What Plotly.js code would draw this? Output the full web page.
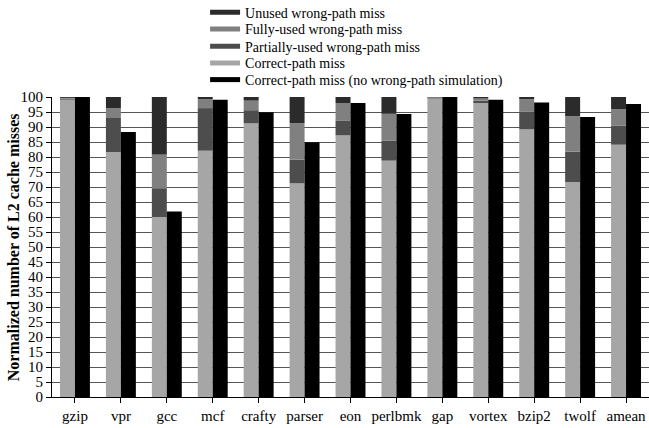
<!DOCTYPE html>
<html>
<head>
<meta charset="utf-8">
<script src="https://cdn.plot.ly/plotly-3.0.1.min.js"></script>
<style>html,body{margin:0;padding:0;background:#fff;}#chart{width:649px;height:428px;}</style>
</head>
<body>
<div id="chart"></div>
<script>
const categories = ["gzip","vpr","gcc","mcf","crafty","parser","eon","perlbmk","gap","vortex","bzip2","twolf","amean"];
const correctPath   = [99.1, 81.6, 60.0, 82.1, 91.3, 71.3, 87.3, 78.8, 99.5, 98.0, 89.3, 71.6, 84.1];
const partiallyUsed = [0.3, 11.4, 9.6, 14.2, 4.3, 7.8, 4.9, 6.6, 0.2, 0.8, 5.9, 10.2, 6.3];
const fullyUsed     = [0.3, 3.3, 11.2, 3.0, 3.2, 12.2, 5.8, 9.0, 0.15, 0.7, 4.1, 11.8, 5.6];
const unusedWP      = [0.3, 3.7, 19.2, 0.7, 1.2, 8.7, 2.0, 5.6, 0.15, 0.5, 0.7, 6.4, 4.0];
const noWrongPath   = [100, 88.3, 61.8, 99.1, 94.9, 84.9, 98.0, 94.3, 100, 99.1, 98.2, 93.3, 97.7];
const seriesNames = ["Unused wrong-path miss","Fully-used wrong-path miss","Partially-used wrong-path miss","Correct-path miss","Correct-path miss (no wrong-path simulation)"];
const yTitle = "Normalized number of L2 cache misses";
const colors = {unused:"#2b2b2b", fully:"#808080", partial:"#4d4d4d", correct:"#a6a6a6", nowp:"#000000"};

const W = 0.326;
function add(a,b){return a.map((v,i)=>v+b[i]);}
const base0 = categories.map(()=>0);
const basePartial = correctPath.slice();
const baseFully = add(correctPath, partiallyUsed);
const baseUnused = add(baseFully, fullyUsed);

function stackBar(vals, base, color){
  return {type:"bar", x:categories, y:vals, base:base, offset:-W, width:W,
    marker:{color:color, line:{width:0}}, showlegend:false, hoverinfo:"skip"};
}
const traces = [
  stackBar(correctPath, base0, colors.correct),
  stackBar(partiallyUsed, basePartial, colors.partial),
  stackBar(fullyUsed, baseFully, colors.fully),
  stackBar(unusedWP, baseUnused, colors.unused),
  {type:"bar", x:categories, y:noWrongPath, base:base0, offset:0, width:W,
    marker:{color:colors.nowp, line:{width:0}}, showlegend:false, hoverinfo:"skip"}
];
const legendColors = [colors.unused, colors.fully, colors.partial, colors.correct, colors.nowp];
const legendIds = ["legend","legend2","legend3","legend4","legend5"];
seriesNames.forEach((n,i)=>{
  traces.push({type:"scatter", mode:"lines", x:[null], y:[null], name:n, legend:legendIds[i],
    line:{color:legendColors[i], width:5}, showlegend:true, hoverinfo:"skip"});
});

const serif = "'Liberation Serif', 'Times New Roman', serif";
const layout = {
  width:649, height:428,
  margin:{l:52, r:0, t:97, b:31, pad:0, autoexpand:false},
  paper_bgcolor:"#fff", plot_bgcolor:"#fff",
  barmode:"overlay",
  font:{family:serif, color:"#000", size:14},
  showlegend:true,
  xaxis:{type:"category", range:[-0.5,12.5], showgrid:false, showline:true, linecolor:"#000", linewidth:1,
    ticks:"outside", ticklen:5, tickcolor:"#000", tickangle:0, tickfont:{family:serif, size:15, color:"#000"}, zeroline:false, fixedrange:true},
  yaxis:{range:[0,100], dtick:5, tick0:0, showgrid:true, gridcolor:"#555", gridwidth:1, showline:true, linecolor:"#000", linewidth:1,
    ticks:"outside", ticklen:5, tickcolor:"#000", tickfont:{family:serif, size:15, color:"#000"}, zeroline:false},
  annotations:[{xref:"paper", yref:"paper", x:-0.065, y:0.5, xanchor:"center", yanchor:"middle", textangle:-90,
    showarrow:false, text:"<b>"+yTitle+"</b>", font:{family:serif, size:16, color:"#000"}}]
};
const rowY = [12.7, 29.3, 46.7, 63.3, 80];
legendIds.forEach((id,i)=>{
  layout[id] = {xref:"container", yref:"container", x:0.316, y:1 - rowY[i]/428, xanchor:"left", yanchor:"middle",
    font:{family:serif, size:14, color:"#000"}, bgcolor:"rgba(0,0,0,0)", borderwidth:0};
});
Plotly.newPlot("chart", traces, layout, {displayModeBar:false, staticPlot:true});
</script>
</body>
</html>
